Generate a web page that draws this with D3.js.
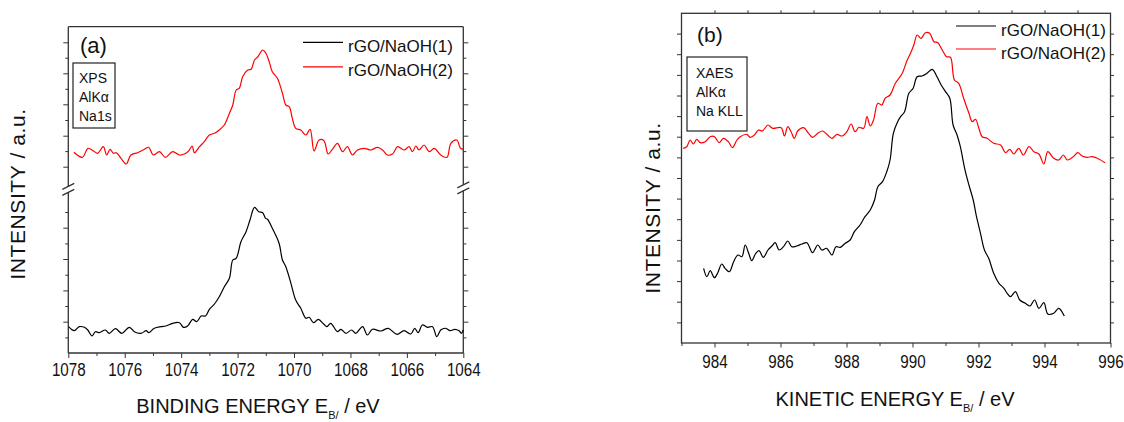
<!DOCTYPE html>
<html>
<head>
<meta charset="utf-8">
<script src="https://cdn.jsdelivr.net/npm/d3@7"></script>
<style>
  body { margin: 0; background: #fff; }
  text { font-family: "Liberation Sans", Arial, sans-serif; fill: #111; }
</style>
</head>
<body>
<script>
// ---- panel (a): XPS Na1s, binding energy ----
const aRedEnergy = [1077.8,1077.5,1077.3,1077.1,1076.96,1076.76,1076.64,1076.52,1076.4,1076.3,
  1076.13,1075.95,1075.78,1075.54,1075.3,1075.15,1074.99,1074.77,1074.56,1074.3,
  1074.06,1073.83,1073.71,1073.61,1073.53,1073.35,1073.18,1073.0,1072.82,1072.65,
  1072.47,1072.29,1072.17,1072.05,1071.94,1071.82,1071.64,1071.52,1071.4,1071.28,
  1071.11,1071.0,1070.88,1070.77,1070.59,1070.41,1070.29,1070.17,1070.06,1069.94,
  1069.76,1069.58,1069.43,1069.29,1069.11,1068.94,1068.79,1068.64,1068.46,1068.28,
  1068.11,1067.93,1067.75,1067.51,1067.28,1067.04,1066.86,1066.69,1066.51,1066.33,
  1066.1,1065.92,1065.8,1065.68,1065.57,1065.39,1065.21,1065.03,1064.8,1064.58,
  1064.44,1064.23,1064.1,1064.0];
const aRedIntensity = [200.7,195.7,204.7,202,199.7,206.3,198,203.7,199.7,200.3,
  194.7,189,198,200.3,203.7,205.7,198,201.3,195.7,201.3,
  198,199.7,203,207,200.3,206.3,211.3,218,219.7,223,
  228,239.7,248,263,264.7,276.3,283,283.7,293,296.3,
  303,300,291.3,281.3,274.7,259.7,248,246.3,234.7,224.7,
  223,218,223.7,202,213,212.3,199,203.7,209.7,201.3,
  206.3,198,203,204.7,203,205.7,203,198,199,206.3,
  203,206.3,201.3,207,203,208,201.3,204.7,198,195.7,
  209.7,213,204.7,203.7];

const aBlackEnergy = [1077.99,1077.79,1077.61,1077.43,1077.31,1077.16,1077.04,1076.9,1076.69,1076.55,
  1076.33,1076.1,1075.84,1075.66,1075.42,1075.24,1075.15,1074.95,1074.71,1074.54,
  1074.3,1074.06,1073.92,1073.77,1073.59,1073.45,1073.29,1073.14,1073.0,1072.82,
  1072.65,1072.47,1072.29,1072.17,1072.05,1071.88,1071.7,1071.56,1071.4,1071.25,
  1071.11,1071.01,1070.94,1070.77,1070.53,1070.41,1070.29,1070.11,1069.94,1069.76,
  1069.58,1069.46,1069.31,1069.14,1068.95,1068.84,1068.7,1068.46,1068.34,1068.16,
  1067.96,1067.81,1067.57,1067.4,1067.22,1066.92,1066.66,1066.35,1066.1,1065.86,
  1065.72,1065.6,1065.45,1065.27,1065.09,1064.94,1064.8,1064.62,1064.47,1064.3,
  1064.15,1064.07,1064.0];
const aBlackIntensity = [26.3,22.3,26.3,25.7,23,17,21.3,20.3,23,19.7,
  24.3,19.7,25.7,21.3,19.7,22.3,20.3,24.7,26.3,27,
  29.7,30.3,25.7,27,33.7,31.3,37,37,43.7,49,
  56.3,66.3,74.7,93,94.7,111.3,121.3,133,145.7,141.3,
  140.3,134.7,133.7,124.7,109.7,93,86.3,69.7,53,44.7,
  34.7,35.7,30.3,33.7,29,26.3,29.7,21.3,23.7,19.7,
  23,19.7,26.3,18,23.7,22,24.7,18.7,22.3,19,
  24.7,20.3,28,25.7,26.3,16.3,23,24.7,22.3,23.7,
  22.3,19.7,23];

const aXTicks = [1078, 1076, 1074, 1072, 1070, 1068, 1066, 1064];
const aXMinor = [1077, 1075, 1073, 1071, 1069, 1067, 1065];
const aYMajor = [31.3, 62.6, 94, 125.3, 186.3, 217.3, 248.7, 279.7, 310.7];
const aYMinor = [15.6, 47, 78.3, 109.6, 141, 201.9, 233, 264.2, 295.3];

// ---- panel (b): XAES Na KLL, kinetic energy ----
const bRedEnergy = [983.05,983.16,983.26,983.36,983.46,983.57,983.72,983.87,984.0,984.14,
  984.27,984.42,984.54,984.68,984.78,984.98,985.08,985.21,985.33,985.45,
  985.62,985.76,986.02,986.12,986.22,986.32,986.42,986.52,986.7,986.85,
  986.97,987.13,987.27,987.4,987.56,987.71,987.86,988.01,988.14,988.26,
  988.38,988.52,988.62,988.72,988.82,988.95,989.07,989.17,989.32,989.48,
  989.69,989.82,989.94,990.04,990.14,990.26,990.39,990.52,990.65,990.77,
  990.9,991.03,991.15,991.27,991.4,991.55,991.71,991.81,991.91,992.01,
  992.11,992.26,992.46,992.67,992.82,992.95,993.07,993.22,993.36,993.53,
  993.68,993.83,993.98,994.1,994.28,994.43,994.57,994.69,994.87,995.01,
  995.14,995.29,995.44,995.6,995.83];
const bRedIntensity = [194.7,196.3,203,199,203.7,200.3,201.3,206.3,206.3,200.3,
  204.7,201.3,195.3,203,206.3,208.7,205.7,208,213,212,
  218,214.7,215.3,207,216.3,211.3,204.7,212,215.3,209.7,
  205.7,209.7,212,209,204.7,208.7,207,211.3,219,211.3,
  215.7,214.7,226.3,217,223,239.7,238,244.7,248,259.7,
  269.7,281.3,289.7,298,308,304.7,310.3,309.7,301.3,300.3,
  293,286.3,285.7,263,259.7,244.7,229.7,221.3,223.7,214.7,
  206.3,204.7,199.7,198,190.3,193.7,189,194.7,188,196.3,
  191.3,189,179,191.3,184.7,183,188,183,186.3,190.3,
  187,185.7,186.3,184.7,180.3];

const bBlackEnergy = [983.67,983.77,983.87,984.0,984.1,984.22,984.32,984.45,984.58,984.71,
  984.83,984.93,985.03,985.13,985.25,985.35,985.48,985.62,985.74,985.84,
  985.96,986.09,986.22,986.34,986.49,986.65,986.8,986.97,987.13,987.25,
  987.4,987.56,987.68,987.81,987.96,988.11,988.24,988.41,988.56,988.72,
  988.85,988.95,989.09,989.22,989.32,989.42,989.55,989.64,989.76,989.89,
  990.02,990.14,990.29,990.44,990.6,990.73,990.87,991.0,991.13,991.23,
  991.35,991.45,991.58,991.71,991.84,991.94,992.06,992.18,992.31,992.46,
  992.62,992.77,992.87,992.97,993.12,993.25,993.42,993.56,993.7,993.83,
  993.98,994.1,994.28,994.43,994.6];
const bBlackIntensity = [74.7,66.3,72.3,65.3,70.3,79,74.7,71.3,81.3,88,
  86.3,98,90.3,82.3,89.7,92.3,85.7,93,97,100.3,
  93,96.3,102,96.3,97,99,100.3,90.3,98,93,
  94.7,88,96.3,95.7,99.7,103,111.3,118,126.3,133,
  143,156.3,161.3,171.3,183,209.7,221.3,226.3,231.3,249.7,
  254.7,266.3,267,269.7,273.7,267,258,251.3,244.7,218,
  208,196.3,174.7,158,143,126.3,109.7,93,84.7,69.7,
  59.7,54.7,49.7,46.3,51.3,43,39.7,37,43,34.7,
  40.3,29,29.7,34.7,27];

const bXTicks = [984, 986, 988, 990, 992, 994, 996];
const bXMinor = [983, 985, 987, 989, 991, 993, 995];
const bXTop = [984, 985, 986, 987, 988, 989, 990, 991, 992, 993, 994, 995];
const bYTicks = [20.6, 41.3, 61.9, 82.5, 103.1, 123.8, 144.4, 165, 185.6, 206.3,
  226.9, 247.5, 268.1, 288.8, 309.4];

const seriesNames = ["rGO/NaOH(1)", "rGO/NaOH(2)"];
const seriesColors = ["#000000", "#ff0000"];

const svg = d3.select("body").append("svg")
    .attr("width", 1124)
    .attr("height", 422);

svg.append("rect").attr("width", 1124).attr("height", 422).attr("fill", "#fff");

const axisColor = "#333";

function zip(xs, ys) {
    return xs.map((x, i) => [x, ys[i]]);
}

function styleAxis(g) {
    g.select(".domain").remove();
    g.selectAll(".tick line").attr("stroke", axisColor).attr("stroke-width", 1);
}

function drawCurve(g, x, y, pts, color) {
    const line = d3.line()
        .x(d => x(d[0]))
        .y(d => y(d[1]))
        .curve(d3.curveCatmullRom.alpha(0.5));
    g.append("path")
        .datum(pts)
        .attr("d", line)
        .attr("fill", "none")
        .attr("stroke", color)
        .attr("stroke-width", 1.2);
}

function drawLegend(g, x0, y0, gap) {
    seriesNames.forEach((name, i) => {
        g.append("line")
            .attr("x1", x0).attr("x2", x0 + 40)
            .attr("y1", y0 + i * gap).attr("y2", y0 + i * gap)
            .attr("stroke", seriesColors[i]).attr("stroke-width", 1.2);
        g.append("text")
            .attr("x", x0 + 45)
            .attr("y", y0 + i * gap + 9.5)
            .style("font-size", "17px")
            .text(name);
    });
}

function drawInfoBox(g, x, y, w, h, lines, tx, ty) {
    g.append("rect")
        .attr("x", x).attr("y", y).attr("width", w).attr("height", h)
        .attr("fill", "none").attr("stroke", "#222").attr("stroke-width", 1.2);
    lines.forEach((t, i) => {
        g.append("text")
            .attr("x", tx)
            .attr("y", ty + i * 19)
            .style("font-size", "14px")
            .text(t);
    });
}

function axisTitle(g, x, y, main) {
    const t = g.append("text")
        .attr("x", x).attr("y", y)
        .attr("text-anchor", "middle")
        .style("font-size", "20px")
        .style("white-space", "pre");
    t.append("tspan").text(main);
    t.append("tspan").attr("dy", 6).style("font-size", "11px").text("B/");
    t.append("tspan").attr("dy", -6).text(" / eV");
}

function yTitle(g, x, y) {
    g.append("text")
        .attr("transform", `translate(${x}, ${y}) rotate(-90)`)
        .attr("text-anchor", "middle")
        .style("font-size", "21px")
        .style("letter-spacing", "0.6px")
        .text("INTENSITY / a.u.");
}

function condenseLabels(g, dy) {
    g.selectAll(".tick text")
        .attr("y", dy)
        .attr("transform", "scale(0.8, 1)")
        .style("font-size", "19px");
}

// ================= panel (a) =================
const gA = svg.append("g");
const aL = 68.3, aR = 463.3, aT = 26.7, aB = 353;
const xA = d3.scaleLinear().domain([1078, 1064]).range([aL, aR]);
const yA = d3.scaleLinear().domain([0, 326.3]).range([aB, aT]);

// ticks
gA.append("g").attr("transform", `translate(0, ${aB})`)
    .call(d3.axisBottom(xA).tickValues(aXTicks).tickSize(5).tickFormat(d => d))
    .call(styleAxis).call(g => condenseLabels(g, 10));
gA.append("g").attr("transform", `translate(0, ${aB})`)
    .call(d3.axisBottom(xA).tickValues(aXMinor).tickSize(3).tickFormat(""))
    .call(styleAxis);
[[d3.axisLeft, aL], [d3.axisRight, aR]].forEach(([ax, xp]) => {
    gA.append("g").attr("transform", `translate(${xp}, 0)`)
        .call(ax(yA).tickValues(aYMajor).tickSize(5).tickFormat(""))
        .call(styleAxis);
    gA.append("g").attr("transform", `translate(${xp}, 0)`)
        .call(ax(yA).tickValues(aYMinor).tickSize(3).tickFormat(""))
        .call(styleAxis);
});

// frame with axis break
const brk1 = 186.3, brk2 = 192.3;
const frameA = [
    [aL, aT, aR, aT], [aL, aB, aR, aB],
    [aL, aT, aL, brk1], [aL, brk2, aL, aB],
    [aR, aT, aR, brk1 - 1.5], [aR, brk2 - 1.5, aR, aB]
];
frameA.forEach(s => {
    gA.append("line").attr("x1", s[0]).attr("y1", s[1]).attr("x2", s[2]).attr("y2", s[3])
        .attr("stroke", axisColor).attr("stroke-width", 1.3);
});
[[aL, 0], [aR, -1.5]].forEach(([xp, off]) => {
    [brk1, brk2].forEach(yb => {
        gA.append("line")
            .attr("x1", xp - 6).attr("y1", yb + off + 3)
            .attr("x2", xp + 6).attr("y2", yb + off - 3)
            .attr("stroke", axisColor).attr("stroke-width", 1.3);
    });
});

drawCurve(gA, xA, yA, zip(aBlackEnergy, aBlackIntensity), seriesColors[0]);
drawCurve(gA, xA, yA, zip(aRedEnergy, aRedIntensity), seriesColors[1]);

drawLegend(gA, 303, 42.3, 24.5);
gA.append("text").attr("x", 80).attr("y", 53).style("font-size", "22px").text("(a)");
drawInfoBox(gA, 73, 63, 42, 65, ["XPS", "AlKα", "Na1s"], 79, 83);
axisTitle(gA, 258, 413, "BINDING ENERGY E");
yTitle(gA, 25, 194);

// ================= panel (b) =================
const gB = svg.append("g");
const bL = 681.5, bR = 1110.5, bT = 13.3, bB = 343;
const xB = d3.scaleLinear().domain([983, 996]).range([bL, bR]);
const yB = d3.scaleLinear().domain([0, 329.7]).range([bB, bT]);

gB.append("g").attr("transform", `translate(0, ${bB})`)
    .call(d3.axisBottom(xB).tickValues(bXTicks).tickSize(4.5).tickFormat(d => d))
    .call(styleAxis).call(g => condenseLabels(g, 12));
gB.append("g").attr("transform", `translate(0, ${bB})`)
    .call(d3.axisBottom(xB).tickValues(bXMinor).tickSize(3).tickFormat(""))
    .call(styleAxis);
gB.append("g").attr("transform", `translate(0, ${bT})`)
    .call(d3.axisTop(xB).tickValues(bXTop).tickSize(3).tickFormat(""))
    .call(styleAxis);
gB.append("g").attr("transform", `translate(${bL}, 0)`)
    .call(d3.axisLeft(yB).tickValues(bYTicks).tickSize(4.5).tickFormat(""))
    .call(styleAxis);
gB.append("g").attr("transform", `translate(${bR}, 0)`)
    .call(d3.axisRight(yB).tickValues(bYTicks).tickSize(3.5).tickFormat(""))
    .call(styleAxis);

gB.append("rect")
    .attr("x", bL).attr("y", bT).attr("width", bR - bL).attr("height", bB - bT)
    .attr("fill", "none").attr("stroke", axisColor).attr("stroke-width", 1.3);

drawCurve(gB, xB, yB, zip(bBlackEnergy, bBlackIntensity), seriesColors[0]);
drawCurve(gB, xB, yB, zip(bRedEnergy, bRedIntensity), seriesColors[1]);

drawLegend(gB, 956, 26, 23);
gB.append("text").attr("x", 697).attr("y", 42).style("font-size", "21px").text("(b)");
drawInfoBox(gB, 687, 57, 60, 74, ["XAES", "AlKα", "Na KLL"], 696, 78);
axisTitle(gB, 895, 406, "KINETIC ENERGY E");
yTitle(gB, 660, 208);
</script>
</body>
</html>
